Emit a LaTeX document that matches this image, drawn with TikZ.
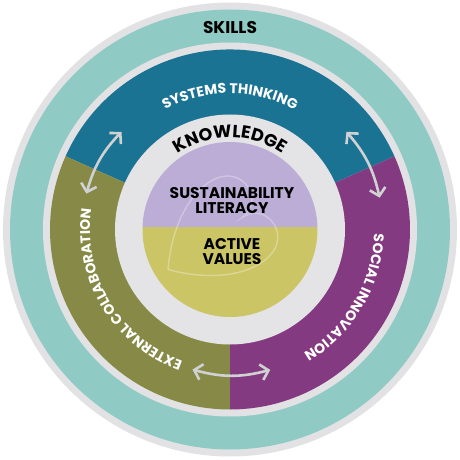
\documentclass[tikz,border=0pt]{standalone}
\usepackage{fontspec}
\setmainfont{Poppins}
\usetikzlibrary{arrows.meta,decorations.text}

\definecolor{rimgray}{HTML}{E2E2E4}
\definecolor{skillteal}{HTML}{8FCBC4}
\definecolor{sysblue}{HTML}{1B7394}
\definecolor{extolive}{HTML}{868A46}
\definecolor{socpurple}{HTML}{843A80}
\definecolor{knowgray}{HTML}{E4E4E6}
\definecolor{litlilac}{HTML}{BBADD5}
\definecolor{valyellow}{HTML}{CBC566}
\definecolor{arrowgray}{HTML}{D0D1D3}

\begin{document}
\begin{tikzpicture}[
    twoway/.style={draw=arrowgray, line width=2.6pt,
        {Straight Barb[length=7.5pt,width=16pt]}-{Straight Barb[length=7.5pt,width=16pt]}},
    midtext/.style={align=center, font=\bfseries\fontsize{15.5}{15}\selectfont}
]
    \useasboundingbox (-230pt,-230.5pt) rectangle (230pt,229.5pt);

    % rings
    \fill[rimgray] (0,0) circle[radius=227pt];
    \fill[skillteal] (0,0) circle[radius=220pt];
    \fill[rimgray] (0,0) circle[radius=187pt];

    \fill[sysblue] (0,0) -- (24:180pt) arc[start angle=24, end angle=156, radius=180pt] -- cycle;
    \fill[extolive] (0,0) -- (156:180pt) arc[start angle=156, end angle=270, radius=180pt] -- cycle;
    \fill[socpurple] (0,0) -- (270:180pt) arc[start angle=270, end angle=384, radius=180pt] -- cycle;

    \fill[knowgray] (0,0) circle[radius=115pt];

    \begin{scope}
        \clip (0,0) circle[radius=87.5pt];
        \fill[litlilac] (-90pt,2.5pt) rectangle (90pt,90pt);
        \fill[valyellow] (-90pt,-90pt) rectangle (90pt,2.5pt);
        % faint heart
        \draw[white, opacity=0.3, line width=1.4pt, shift={(-62pt,-40pt)}, rotate=-55, scale=0.95]
            (0,0) .. controls (-60pt,50pt) and (-62pt,110pt) .. (-30pt,118pt)
            .. controls (-12pt,122pt) and (0,110pt) .. (0,95pt)
            .. controls (0,110pt) and (12pt,122pt) .. (30pt,118pt)
            .. controls (62pt,110pt) and (60pt,50pt) .. (0,0);
    \end{scope}

    % labels
    \node[font=\bfseries\fontsize{17}{17}\selectfont] (skills) at (0,201.5pt) {SKILLS};
    \node[midtext] (literacy) at (2pt,28.5pt) {SUSTAINABILITY\\LITERACY};
    \node[midtext] (values) at (2pt,-22pt) {ACTIVE\\VALUES};

    \path[decorate, decoration={text along path, text align=center,
        text={|\bfseries\fontsize{14}{14}\selectfont\color{white}|SYSTEMS THINKING}}]
        (125:136pt) arc[start angle=125, end angle=55, radius=136pt];
    \path[decorate, decoration={text along path, text align=center,
        text={|\bfseries\fontsize{17.5}{17.5}\selectfont|KNOWLEDGE}}]
        (145:92pt) arc[start angle=145, end angle=35, radius=92pt];
    \path[decorate, decoration={text along path, text align=center,
        text={|\bfseries\fontsize{14}{14}\selectfont\color{white}|SOCIAL INNOVATION}}]
        (15:144pt) arc[start angle=15, end angle=-76, radius=144pt];
    \path[decorate, decoration={text along path, text align=center,
        text={|\bfseries\fontsize{14}{14}\selectfont\color{white}|EXTERNAL COLLABORATION}}]
        (258:140pt) arc[start angle=258, end angle=164, radius=140pt];

    % arrows between skills
    \coordinate (ecA) at (166:148pt);
    \coordinate (stA) at (138:146pt);
    \coordinate (stB) at (40:152pt);
    \coordinate (siB) at (12:153pt);
    \coordinate (ecC) at (255:145pt);
    \coordinate (siC) at (286:146pt);
    \draw[twoway] (ecA) to[bend left=14] (stA);
    \draw[twoway] (stB) to[bend left=14] (siB);
    \draw[twoway] (ecC) to[bend right=15] (siC);
\end{tikzpicture}
\end{document}
